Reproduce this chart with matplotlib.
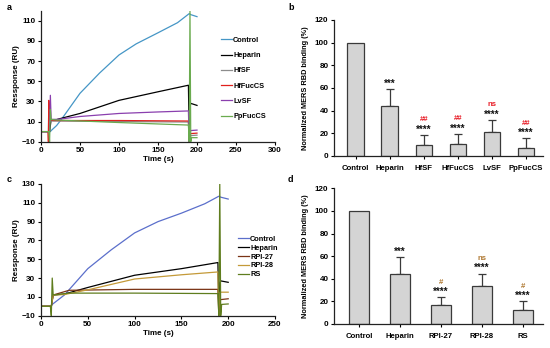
import matplotlib
matplotlib.use("Agg")
from matplotlib import pyplot as plt
import numpy as np

plt.rcParams['font.family'] = ['Liberation Sans', 'DejaVu Sans']
plt.rcParams['font.weight'] = 'bold'
plt.rcParams['axes.labelweight'] = 'bold'

# ---- panel a : sensorgrams (time s, response RU)
a_names = ["Control", "Heparin", "HfSF", "HfFucCS", "LvSF", "PpFucCS"]
a_colors = ["#4596c6", "#000000", "#8c8c8c", "#e0201c", "#8a3fae", "#6aab4f"]
a_t = [
    [0, 12, 13, 20, 27, 50, 75, 100, 122, 150, 175, 190, 192, 200],
    [0, 11, 13, 20, 50, 100, 150, 189, 190, 191, 192, 200],
    [0, 9.5, 10, 11, 15, 100, 189, 190, 191, 200],
    [0, 9, 9.5, 10, 11, 15, 100, 189, 190, 191, 200],
    [0, 11, 12, 13, 20, 50, 100, 150, 189, 190, 191, 200],
    [0, 10, 11, 12, 13, 20, 100, 189, 190, 191, 192, 193, 200],
]
a_y = [
    [0, 0, 1, 6, 13, 38, 58, 76, 87, 98, 108, 117, 116, 114],
    [0, 0, 12, 12, 18, 31, 39.5, 46, -5, 25, 28, 26],
    [0, 0, 28, 11, 10.5, 10, 9.5, -10, -4, -3.5],
    [0, 0, -10, 31, 12, 11, 11, 10.5, -10, -2, -1.5],
    [0, 0, 36, 12, 12, 15, 18, 19.5, 20.5, -10, 1, 1.5],
    [0, 0, -10, 22, 12, 11.5, 9, 6.5, -10, 120, -10, -6, -6],
]

# ---- panel c
c_names = ["Control", "Heparin", "RPI-27", "RPI-28", "RS"]
c_colors = ["#5b6fcb", "#000000", "#7a3416", "#c49a38", "#5f7d1e"]
c_t = [
    [0, 11, 12, 25, 50, 75, 100, 125, 150, 175, 190, 192, 200],
    [0, 11, 13, 25, 50, 100, 150, 189, 190, 191, 192, 200],
    [0, 11, 13, 30, 100, 189, 190, 191, 200],
    [0, 11, 13, 25, 50, 100, 150, 189, 190, 191, 200],
    [0, 10, 11, 12, 13, 30, 100, 189, 190, 191, 192, 193, 200],
]
c_y = [
    [0, 0, 2, 12, 40, 60, 78, 90, 99, 109, 117, 116, 114],
    [0, 0, 12, 13, 20, 33, 40, 46.5, -5, 25, 27, 25.5],
    [0, 0, 12, 17, 18, 18, -10, 7, 8],
    [0, 0, 12, 12.5, 17.5, 29, 33.5, 36.5, -10, 15, 15],
    [0, 0, -10, 30, 12, 14, 14, 13.5, -10, 130, -10, 2, 2.5],
]

# ---- panel b / d : normalized binding (%)
b_cats = ["Control", "Heparin", "HfSF", "HfFucCS", "LvSF", "PpFucCS"]
b_vals = [100, 44, 9.5, 11, 21, 7]
b_err = [0, 15, 9, 8.5, 11, 8.5]
b_stars = ["", "***", "****", "****", "****", "****"]
b_hash = ["", "", "##", "##", "ns", "##"]

d_cats = ["Control", "Heparin", "RPI-27", "RPI-28", "RS"]
d_vals = [100, 44, 16.5, 34, 12]
d_err = [0, 15, 7, 10.5, 8]
d_stars = ["", "***", "****", "****", "****"]
d_hash = ["", "", "#", "ns", "#"]

fig = plt.figure(figsize=(5.5, 3.48), dpi=100)

tfs = 5.8
lfs = 5.8


def style(ax):
    for s in ["top", "right"]:
        ax.spines[s].set_visible(False)
    for s in ["left", "bottom"]:
        ax.spines[s].set_linewidth(0.9)
        ax.spines[s].set_color("#222222")
    ax.tick_params(direction="out", length=2.5, width=0.8, labelsize=tfs, pad=1.5)
    for lab in ax.get_xticklabels() + ax.get_yticklabels():
        lab.set_fontweight("bold")


def sensorgram(ax, ts, ys, names, colors, xmax, ymax, leg_xy, lspace):
    for t, y, n, c in zip(ts, ys, names, colors):
        ax.plot(t, y, color=c, lw=0.9, label=n)
    ax.set_xlim(0, xmax)
    ax.set_ylim(-10, ymax)
    ax.set_xticks(np.arange(0, xmax + 1, 50))
    ax.set_yticks(np.arange(-10, ymax + 1, 20))
    ax.set_xlabel("Time (s)", fontsize=lfs, labelpad=1.5)
    ax.set_ylabel("Ressponse (RU)", fontsize=lfs, labelpad=1)
    style(ax)
    ax.legend(loc="upper left", bbox_to_anchor=leg_xy, frameon=False,
              handlelength=1.5, handletextpad=0.15,
              borderpad=0, borderaxespad=0, labelspacing=lspace,
              prop={"weight": "bold", "size": 5.3})


def bars(ax, cats, vals, err, stars, hashes, hcol, xl, soff, hoff):
    x = np.arange(len(cats))
    ax.bar(x, vals, width=0.49, color="#d4d4d4", edgecolor="#3a3a3a", lw=0.9, zorder=2)
    ax.errorbar(x[1:], vals[1:], yerr=[np.zeros(len(x) - 1), err[1:]], fmt="none",
                ecolor="#3a3a3a", elinewidth=0.9, capsize=3.2, capthick=0.9, zorder=1)
    for i in x:
        top = vals[i] + err[i]
        if stars[i]:
            ax.text(i, top + soff, stars[i], ha="center", va="center", fontsize=7,
                    fontweight="bold", color="#111111")
        if hashes[i]:
            ax.text(i, top + soff + hoff, hashes[i], ha="center", va="center",
                    fontsize=5.6, fontweight="bold", color=hcol)
    ax.set_xlim(*xl)
    ax.set_ylim(0, 120)
    ax.set_yticks(np.arange(0, 121, 20))
    ax.set_xticks(x)
    ax.set_xticklabels(cats)
    ax.set_ylabel("Normalized MERS RBD binding (%)", fontsize=5.3, labelpad=4)
    style(ax)
    ax.tick_params(axis="x", pad=4, labelsize=5.6)


ax_a = fig.add_axes([41 / 550, 1 - 141.7 / 348, 234 / 550, 131.1 / 348])
sensorgram(ax_a, a_t, a_y, a_names, a_colors, 300, 120, (0.769, 0.80), 1.1)

ax_c = fig.add_axes([41 / 550, 1 - 315.7 / 348, 234 / 550, 131.7 / 348])
sensorgram(ax_c, c_t, c_y, c_names, c_colors, 250, 130, (0.842, 0.61), 0.25)

ax_b = fig.add_axes([334 / 550, 1 - 156 / 348, 209 / 550, 136 / 348])
bars(ax_b, b_cats, b_vals, b_err, b_stars, b_hash, "#e8202a", (-0.64, 5.5), 4.5, 9)

ax_d = fig.add_axes([334 / 550, 1 - 324 / 348, 209 / 550, 135.7 / 348])
bars(ax_d, d_cats, d_vals, d_err, d_stars, d_hash, "#b07a34", (-0.62, 4.5), 5, 8.5)

for lab, x, y in [("a", 7, 7), ("b", 288, 7), ("c", 7, 180), ("d", 288, 180)]:
    fig.text(x / 550, 1 - y / 348, lab, fontsize=6.5, fontweight="bold", va="center")

fig.savefig("out.png", dpi=100)
